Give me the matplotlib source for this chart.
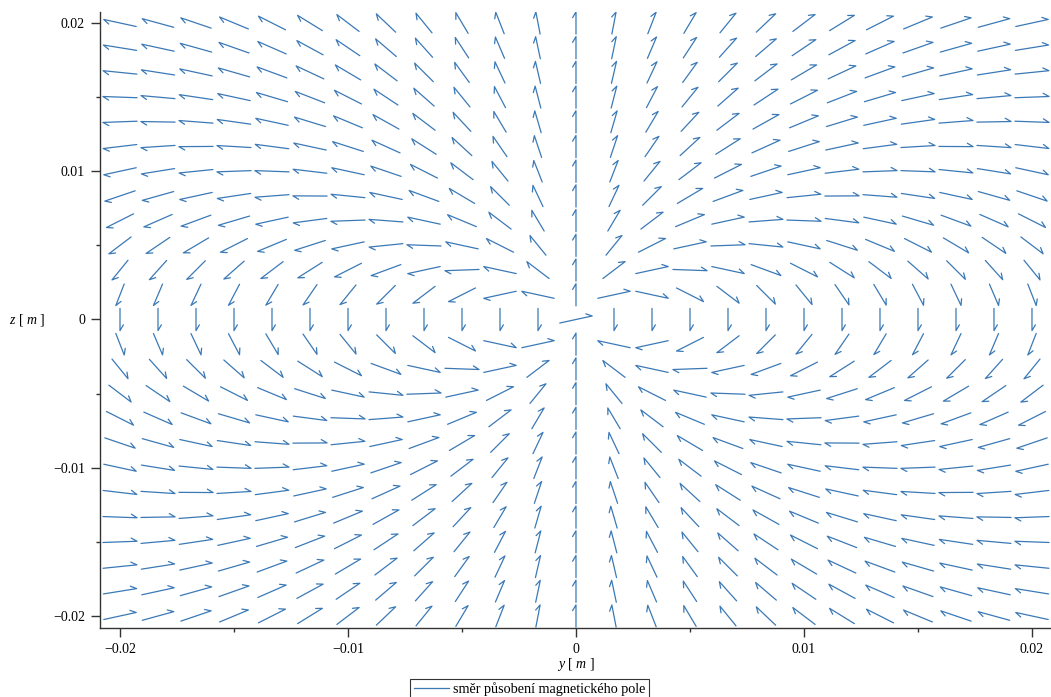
import numpy as np
import matplotlib
matplotlib.use("Agg")
import matplotlib.pyplot as plt
from matplotlib.collections import LineCollection
from matplotlib.lines import Line2D

plt.rcParams['font.family'] = ['Liberation Serif', 'DejaVu Serif']
plt.rcParams['mathtext.fontset'] = 'custom'
plt.rcParams['mathtext.rm'] = 'Liberation Serif'
plt.rcParams['mathtext.it'] = 'Liberation Serif:italic'

# ---- data ----
y_grid = np.linspace(-0.02, 0.02, 25)          # y positions of arrows [m]
z_grid = np.linspace(-0.02, 0.02, 25)          # z positions of arrows [m]
dipole_moment = (0.0, 1.0)                      # magnetic moment direction (y, z)
center_direction = (3.0, 1.0)                   # arrow drawn at the singular point
x_ticks = [-0.02, -0.01, 0.0, 0.01, 0.02]
x_tick_labels = ['\u22120.02', '\u22120.01', '0', '0.01', '0.02']
y_ticks = [-0.02, -0.01, 0.0, 0.01, 0.02]
y_tick_labels = ['\u22120.02', '\u22120.01', '0', '0.01', '0.02']
minor_ticks = [-0.015, -0.005, 0.005, 0.015]
legend_label = 'směr působení magnetického pole'
arrow_len = 0.0015

color = '#3b79b6'

fig = plt.figure(figsize=(10.51, 6.97), dpi=100)
ax = fig.add_axes([100/1051, 69/697, 951/1051, 616.5/697])
ax.set_xlim(-0.020877, 0.020834)
ax.set_ylim(-0.02081, 0.020775)

# field direction (direction of a magnetic dipole field)
Y, Z = np.meshgrid(y_grid, z_grid)
my, mz = dipole_moment
R2 = Y**2 + Z**2
mdotr = my*Y + mz*Z
By = 3*mdotr*Y - my*R2
Bz = 3*mdotr*Z - mz*R2
sing = R2 == 0
By[sing] = center_direction[0]
Bz[sing] = center_direction[1]
N = np.hypot(By, Bz)
uy, uz = By/N, Bz/N

tails = np.column_stack([(Y - 0.5*arrow_len*uy).ravel(), (Z - 0.5*arrow_len*uz).ravel()])
tips = np.column_stack([(Y + 0.5*arrow_len*uy).ravel(), (Z + 0.5*arrow_len*uz).ravel()])

fig.canvas.draw()
T = ax.transData
tails_px = T.transform(tails)
tips_px = T.transform(tips)
d = tips_px - tails_px
d /= np.linalg.norm(d, axis=1)[:, None]
perp = np.column_stack([-d[:, 1], d[:, 0]])
barb_px = tips_px - 5.8*d + 3.4*perp
barbs = T.inverted().transform(barb_px)

segs = [np.array([t, h, b]) for t, h, b in zip(tails, tips, barbs)]
lc = LineCollection(segs, colors=color, linewidths=0.9, capstyle='round', joinstyle='round')
ax.add_collection(lc)

for s in ['top', 'right']:
    ax.spines[s].set_visible(False)
for s in ['left', 'bottom']:
    ax.spines[s].set_linewidth(1.0)
    ax.spines[s].set_color('#333333')

ax.set_xticks(x_ticks)
ax.set_xticklabels(x_tick_labels)
ax.set_yticks(y_ticks)
ax.set_yticklabels(y_tick_labels)
ax.set_xticks(minor_ticks, minor=True)
ax.set_yticks(minor_ticks, minor=True)
ax.tick_params(which='major', direction='out', length=6.5, width=1.0, labelsize=10, pad=4.3, colors='#333333', labelcolor='black')
ax.tick_params(which='minor', direction='out', length=3, width=1.0, colors='#333333')

ax.set_xlabel(r'$y$ [ $m$ ]', fontsize=10)
ax.xaxis.set_label_coords(0.5005, -0.0584)
ax.xaxis.label.set_va('center')
ax.set_ylabel(r'$z$ [ $m$ ]', fontsize=10, rotation=0)
ax.yaxis.set_label_coords(-0.0768, 0.5)
ax.yaxis.label.set_va('center')
ax.yaxis.label.set_ha('center')

handle = Line2D([], [], color=color, linewidth=0.9)
leg = fig.legend([handle], [legend_label], loc='upper left',
                 bbox_to_anchor=(410/1051, 1 - 679/697), frameon=True, fancybox=False,
                 fontsize=10.2, handlelength=2.5, handletextpad=0.3, borderpad=0.25,
                 borderaxespad=0)
leg.get_frame().set_edgecolor('black')
leg.get_frame().set_linewidth(0.8)

fig.savefig('out.png', dpi=100)
